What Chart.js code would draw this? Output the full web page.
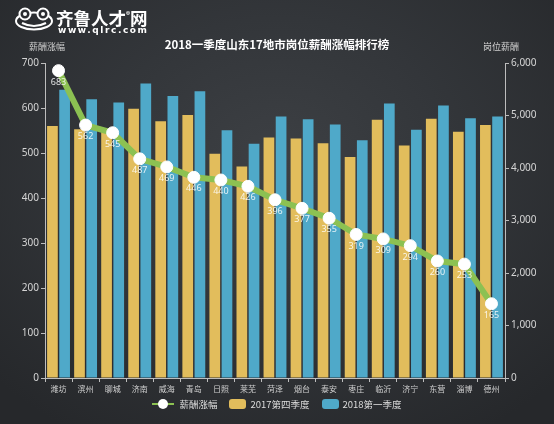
<!DOCTYPE html>
<html><head><meta charset="utf-8">
<script src="https://cdn.jsdelivr.net/npm/chart.js@4.4.1/dist/chart.umd.min.js"></script>
<style>
html,body{margin:0;padding:0;}
body{width:554px;height:424px;overflow:hidden;position:relative;
background:radial-gradient(ellipse 70% 75% at 50% 38%, #3d4044 0%, #33363a 45%, #26282b 100%);
font-family:"Noto Sans CJK SC","Noto Sans",sans-serif;color:#ddd;}
#wrap{position:absolute;left:0;top:0;width:554px;height:424px;}
.t{position:absolute;white-space:nowrap;}
#logo{left:14px;top:7px;}
#brand{left:56px;top:5px;font-size:17.5px;font-weight:bold;color:#fff;}
#url{left:58px;top:25px;font-size:9px;font-weight:bold;color:#fff;letter-spacing:1.6px;font-family:"DejaVu Sans",sans-serif;}
#title{left:0;width:554px;top:36px;text-align:center;font-size:11.5px;font-weight:bold;color:#fff;}
#ly{left:29px;top:40px;font-size:9px;color:#cfcfcf;}
#ry{left:483px;top:40px;font-size:9px;color:#cfcfcf;}
#legend{position:absolute;left:0;width:554px;top:397px;display:flex;justify-content:center;align-items:center;font-size:9.5px;color:#ddd;gap:0;}
.li{display:flex;align-items:center;margin:0 6px;}
.sw{width:17px;height:10px;border-radius:3px;margin-right:4px;}
.ln{position:relative;width:22px;height:10px;margin-right:5px;}
.ln:before{content:"";position:absolute;left:0;right:0;top:4px;height:2px;background:#8cc152;}
.ln:after{content:"";position:absolute;left:6px;top:0;width:10px;height:10px;border-radius:50%;background:#fff;}
</style></head>
<body>
<div id="wrap"><canvas id="c" width="554" height="424"></canvas></div>
<svg class="t" id="logo" width="40" height="24" viewBox="0 0 40 24">
 <ellipse cx="20" cy="14" rx="18" ry="8.5" fill="none" stroke="#fff" stroke-width="2"/>
 <circle cx="11" cy="7" r="5.5" fill="#2b2d31" stroke="#fff" stroke-width="2"/>
 <circle cx="29" cy="7" r="5.5" fill="#2b2d31" stroke="#fff" stroke-width="2"/>
 <circle cx="11" cy="7" r="2" fill="#fff"/><circle cx="29" cy="7" r="2" fill="#fff"/>
 <path d="M8 16 Q20 22 32 16" fill="none" stroke="#fff" stroke-width="2"/>
</svg>
<div class="t" id="brand">齐鲁人才<sup style="font-size:8px">®</sup>网</div>
<div class="t" id="url">www.qlrc.com</div>
<div class="t" id="title">2018一季度山东17地市岗位薪酬涨幅排行榜</div>
<div class="t" id="ly">薪酬涨幅</div>
<div class="t" id="ry">岗位薪酬</div>
<div id="legend">
 <div class="li"><div class="ln"></div>薪酬涨幅</div>
 <div class="li"><div class="sw" style="background:#e2bd5c"></div>2017第四季度</div>
 <div class="li"><div class="sw" style="background:#4fa9c9"></div>2018第一季度</div>
</div>
<script>
const categories = ["潍坊","滨州","聊城","济南","威海","青岛","日照","莱芜","菏泽","烟台","泰安","枣庄","临沂","济宁","东营","淄博","德州"];
const growth = [683,562,545,487,469,446,440,426,396,377,355,319,309,294,260,253,165];
const salary2017Q4 = [4800,4740,4740,5130,4890,5010,4270,4030,4580,4560,4470,4210,4920,4430,4940,4690,4820];
const salary2018Q1 = [5490,5310,5250,5610,5370,5460,4720,4460,4980,4930,4830,4530,5230,4730,5190,4950,4980];
const leftTicks = [0,100,200,300,400,500,600,700];
const rightTicks = [0,1000,2000,3000,4000,5000,6000];

const labelPlugin = {
  id:'ptLabels',
  afterDatasetsDraw(chart){
    const ctx = chart.ctx;
    const meta = chart.getDatasetMeta(0);
    ctx.save();
    ctx.font = '9px "Noto Sans", sans-serif';
    ctx.fillStyle = 'rgba(255,255,255,0.85)';
    ctx.textAlign = 'center';
    ctx.textBaseline = 'top';
    meta.data.forEach((p,i)=>{ ctx.fillText(String(growth[i]), p.x, p.y + 7); });
    ctx.restore();
  }
};

new Chart(document.getElementById('c'), {
  data: {
    labels: categories,
    datasets: [
      {type:'line', label:'薪酬涨幅', data: growth, yAxisID:'y', order:0,
       borderColor:'#8cc152', borderWidth:6, pointRadius:6, pointHoverRadius:6,
       pointBackgroundColor:'#ffffff', pointBorderColor:'#ffffff', pointBorderWidth:1, tension:0},
      {type:'bar', label:'2017第四季度', data: salary2017Q4, yAxisID:'y1', order:1,
       backgroundColor:'#e2bd5c', categoryPercentage:0.9, barPercentage:0.88},
      {type:'bar', label:'2018第一季度', data: salary2018Q1, yAxisID:'y1', order:1,
       backgroundColor:'#4fa9c9', categoryPercentage:0.9, barPercentage:0.88}
    ]
  },
  options: {
    responsive:false, animation:false,
    layout:{padding:{top:63,left:0,right:0,bottom:0}},
    plugins:{legend:{display:false}, tooltip:{enabled:false}},
    scales:{
      x:{offset:true,
         grid:{offset:true, drawOnChartArea:false, drawTicks:true, tickLength:4, color:'#bdbdbd'},
         border:{color:'#bdbdbd'},
         ticks:{color:'#cfcfcf', font:{size:8, family:'"Noto Sans CJK SC"'}, padding:2, maxRotation:0, autoSkip:false},
         afterFit(s){ s.height = 46; }},
      y:{position:'left', min:0, max:700,
         afterBuildTicks(s){ s.ticks = leftTicks.map(v=>({value:v})); },
         grid:{drawOnChartArea:false, drawTicks:true, tickLength:4, color:'#bdbdbd'},
         border:{color:'#bdbdbd'},
         ticks:{color:'#d5d5d5', font:{size:10, family:'"Noto Sans"'}, padding:2},
         afterFit(s){ s.width = 45; }},
      y1:{position:'right', min:0, max:6000,
         afterBuildTicks(s){ s.ticks = rightTicks.map(v=>({value:v})); },
         grid:{drawOnChartArea:false, drawTicks:true, tickLength:4, color:'#bdbdbd'},
         border:{color:'#bdbdbd'},
         ticks:{color:'#d5d5d5', font:{size:10, family:'"Noto Sans"'}, padding:2,
                callback:(v)=>v.toLocaleString('en-US')},
         afterFit(s){ s.width = 49; }}
    }
  },
  plugins:[labelPlugin]
});
</script>
</body></html>
